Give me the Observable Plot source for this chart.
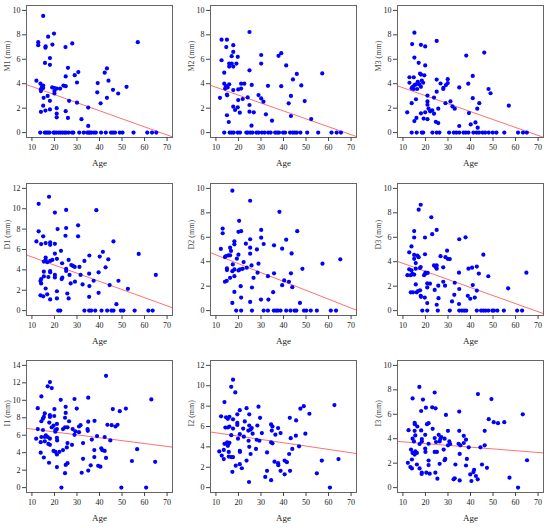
<!DOCTYPE html>
<html><head><meta charset="utf-8">
<script src="https://cdn.jsdelivr.net/npm/d3@7"></script>
<script src="https://cdn.jsdelivr.net/npm/@observablehq/plot@0.6"></script>
<style>
body{margin:0;background:#fff;}
#wrap{position:relative;width:550px;height:528px;overflow:hidden;background:#fff;}
#wrap > div{position:absolute;}
#wrap svg, #wrap svg text{font-family:"Liberation Serif","DejaVu Serif",serif !important;}
</style></head><body><div id="wrap"></div>
<script>
const xTicks = [10,20,30,40,50,60,70];
const yTicks10 = [0,2,4,6,8,10];
const yTicks12 = [0,2,4,6,8,10,12];
const yTicks14 = [0,2,4,6,8,10,12,14];
const yLabels = ["M1 (mm)","M2 (mm)","M3 (mm)","D1 (mm)","D2 (mm)","D3 (mm)","I1 (mm)","I2 (mm)","I3 (mm)"];
const yMaxes = [10,10,10,12,10,10,14,12,10];
const intercepts = [4.43,4.36,4.32,6.07,5.29,4.53,7.04,5.71,3.89];
const slopes = [-0.066,-0.0647,-0.065,-0.080,-0.0726,-0.066,-0.0332,-0.0327,-0.0145];

const m1 = [[15,9.55],[12.8,7.4],[12.8,7.15],[17.2,7.85],[19.8,8.1],[16,6.95],[16.1,7.05],[19.1,7.2],[27.9,7.3],[24.9,7.0],[57,7.4],[18,6.1],[15.8,5.7],[18,5.55],[26,5.3],[30.6,4.95],[29,4.7],[43.3,5.25],[42.3,4.9],[25,4.6],[30,4.1],[44,4.25],[39.2,4.05],[12,4.25],[13.8,4.0],[14.5,3.75],[15,3.85],[14,3.55],[14,3.4],[15,3.65],[19,3.7],[20,3.65],[21,3.6],[20,3.4],[20,3.2],[22.5,3.6],[24,3.85],[25,3.8],[39,3.3],[46,3.5],[48.3,3.2],[52,3.75],[17,3.0],[15.2,2.85],[18,2.6],[26.5,2.6],[30,2.45],[40.5,2.4],[43.3,2.85],[15,2.2],[21,2.0],[35,2.05],[16,1.8],[18,1.9],[14,1.7],[21,1.55],[25,1.75],[21,1.25],[26,1.2],[32,1.1],[35,0.55]];
const m1Zero = [13.7,15.7,16.3,17.1,17.8,19.6,20.1,20.9,21.9,22.7,23.6,24.5,25.2,26.3,27.8,28.4,31,33,34.5,35.2,35.7,36.4,37.5,38.4,40.7,42.8,45.1,46,46.9,49,50.2,55.1,61.2,63.3,65.2];

const m2 = [[12.5,7.6],[14.9,7.6],[12.5,5.92],[14.6,7.0],[17.7,7.15],[17.7,6.6],[17,6.25],[19.7,6.2],[15.9,5.65],[17,5.65],[15.9,5.4],[17.7,5.4],[19.1,5.65],[24.9,8.23],[24.9,5.1],[30.1,5.65],[30.1,6.35],[37.8,6.28],[39,6.5],[41.2,5.5],[57.2,4.84],[45.9,4.8],[44.2,4.35],[13.7,4.9],[13.7,4.0],[14.5,3.8],[14.1,3.6],[15.9,3.95],[15.2,3.7],[14.9,3.12],[15,3.05],[17.7,3.48],[19.9,3.53],[21.2,3.6],[21.2,4.0],[22.6,4.0],[25.9,3.9],[33.1,3.83],[39,3.8],[47.9,3.86],[11.8,2.85],[19.9,2.66],[21.9,2.75],[24.1,2.88],[28.9,3.07],[30.1,2.8],[31.1,2.53],[43.3,3.0],[49.4,2.58],[42.3,2.4],[17.7,2.12],[18.5,1.85],[19.7,2.07],[24.9,2.26],[20.6,1.63],[24.9,1.71],[26.8,1.66],[32.2,1.5],[43.3,1.36],[34.9,0.98],[52.3,1.11],[14.9,1.42],[15.7,0.87],[25.8,0.57]];
const m2Zero = [13.7,16.1,17,17.9,19.7,20.7,23.5,24.1,25.2,26.2,28,28.9,30.4,31.6,33.2,34.3,36.3,37.2,38,39.8,40.7,42.9,44.1,45,45.9,47.5,50.5,55.4,61.3,63.6,65.5];

const m3 = [[15.1,8.18],[14.1,7.24],[18,7.18],[19.9,7.05],[25,7.5],[46.1,6.55],[38.1,6.3],[15.1,6.14],[17,5.71],[19.9,5.5],[17.6,4.83],[18,4.75],[19.5,4.69],[12.9,4.53],[14.8,4.53],[25,4.34],[29.9,4.37],[41,4.64],[12.9,4.08],[14.2,3.73],[15.1,3.89],[15.8,3.94],[16.6,4.16],[18.4,4.26],[19,4.08],[17.3,3.94],[18,3.75],[13.9,3.62],[14.8,3.57],[16.3,3.57],[26.7,4.02],[29.1,3.89],[29.9,4.05],[27.9,3.57],[28,3.67],[25,3.35],[20.9,3.03],[23.8,2.87],[35,3.7],[39,4.0],[48,3.57],[48.9,3.22],[41,2.82],[43.9,2.41],[13.9,2.41],[20.9,2.55],[20.9,2.28],[28.9,2.41],[31.1,2.55],[57,2.2],[15.8,2.73],[32,2.14],[33,1.96],[21.4,1.96],[22.1,1.74],[23,1.82],[25.7,1.96],[43,1.96],[11.9,1.66],[18,1.58],[19.9,1.66],[23.8,1.55],[39.3,1.6],[16,1.2],[19.2,1.15],[20.9,1.1],[24.6,0.88],[25.7,0.78],[15.1,0.94],[40.1,0.67],[42.2,0.83],[35,0.54],[43.2,0.4]];
const m3Zero = [13.9,16.1,18.4,19,23.1,25,26.2,30.5,32.6,33.7,35,36.9,37.9,39.1,41.3,42.7,43.8,45.4,46.5,48.1,49.9,51.5,55,61.1,63.3,65];

const d1 = [[13,10.48],[17.6,11.18],[20.2,9.63],[25.2,9.89],[38.6,9.86],[13,7.78],[15,7.29],[30.5,8.37],[25.2,8.11],[21.4,8.01],[24.9,7.35],[30.5,7.29],[12,6.79],[14.1,6.53],[16.1,6.63],[18.1,6.69],[18.1,6.46],[20.2,6.56],[46.2,6.79],[57.4,5.57],[22.9,5.87],[20.2,5.6],[16.1,5.21],[16.1,4.98],[15.3,4.81],[16.8,4.75],[18.1,4.88],[19.1,4.98],[21.1,5.08],[26.3,4.98],[23.4,4.65],[27.5,4.48],[28.2,4.39],[29,4.29],[31.1,4.29],[33.3,4.88],[35.5,5.41],[40.1,5.31],[41.5,5.77],[43.9,5.04],[42.7,4.25],[39.6,3.76],[25.2,4.09],[25.2,3.89],[26.7,3.5],[15.3,3.82],[18.1,3.89],[18.1,3.76],[20.2,3.5],[20.2,3.26],[15.3,3.36],[17.3,3.3],[13.8,2.9],[14.1,2.67],[23.5,3.23],[23.2,3.1],[31.6,3.5],[35.4,3.63],[37.4,2.93],[29.1,2.84],[27.2,2.67],[32.5,2.57],[35.5,2.41],[44.5,2.51],[48.4,2.93],[52.6,2.14],[65,3.5],[14.1,3.1],[13.8,1.5],[15,1.4],[16.8,1.6],[18.1,1.1],[21.1,1.2],[21.1,1.9],[25.7,1.68],[26.3,1.2],[35.4,1.35],[39.6,1.75],[47.5,0.63],[16.1,2.17]];
const d1Zero = [21.7,22.6,33.3,35.4,36.3,38.1,40.9,43.4,45.3,46.2,49.5,50.6,55.6,61.7,63.6];

const d2 = [[17.3,9.81],[25.2,8.99],[38.2,8.08],[20.3,7.35],[12.2,5.05],[13,6.71],[13,6.33],[20,6.45],[21.2,6.5],[30.1,6.6],[30.1,5.97],[46.1,6.5],[25.2,5.84],[41.2,5.8],[18.2,5.67],[18.2,5.42],[23.3,5.48],[31.2,5.45],[35.8,5.34],[39.4,5.07],[28.2,5.01],[16.3,5.15],[16.7,4.88],[25.2,5.15],[20,4.58],[25.2,4.66],[15.5,4.52],[14.5,4.47],[14,4.38],[16.3,4.52],[43.6,4.68],[17.5,3.78],[19.3,4.25],[22.3,3.97],[23.7,3.51],[25.8,3.7],[28.9,3.84],[65.2,4.2],[57.3,3.84],[14.9,3.45],[14.9,3.32],[18.2,3.37],[20,3.29],[20.7,3.37],[21.9,3.42],[17.3,3.23],[28.5,3.1],[26.7,2.68],[48.4,3.42],[40.3,2.47],[42.4,2.36],[16.3,2.68],[14,2.36],[14.8,2.44],[18.2,2.82],[33.1,2.82],[43.3,3.05],[35.8,3.05],[39.4,2.08],[43.9,1.92],[21,2.0],[26,1.89],[18.2,1.53],[35.4,1.51],[21.2,1.07],[30,0.9],[33.3,0.9],[17.3,0.63],[25.2,0.71],[47.3,0.63]];
const d2Zero = [19,21.2,26,31.2,33.1,35.7,36.7,37.5,38.7,41.2,43.1,44.9,45.7,49.1,50.1,52.1,54.8,61,63.3];

const d3 = [[17.9,8.66],[17,8.26],[22.6,7.64],[25,6.6],[23,6.25],[15,6.51],[15,5.98],[19.8,5.98],[35,5.84],[37.8,6.0],[45.7,4.58],[13.8,5.25],[15,4.56],[16.4,4.5],[17,4.37],[15,4.24],[19.8,4.61],[26.7,4.45],[29.6,4.9],[28.9,4.37],[29.9,4.24],[30.8,4.22],[12.8,4.77],[15.7,3.89],[23.8,3.7],[24.5,3.57],[25,3.7],[25,3.43],[27.9,3.54],[17.6,3.49],[17.9,3.57],[39.1,3.43],[40.7,3.51],[42.8,3.6],[15.7,3.43],[12.8,3.38],[13.8,3.3],[12,2.9],[13.5,2.9],[15,2.95],[14.2,3.0],[19.4,2.9],[20.1,3.03],[21,3.08],[20,3.1],[34.9,3.1],[43.7,3.03],[47.9,2.81],[64.8,3.1],[27.9,2.36],[28.7,2.04],[33,2.28],[20.8,2.23],[22,2.2],[20.8,1.9],[25.7,2.04],[15.7,2.14],[41,2.09],[42.8,1.64],[35,1.77],[56.7,1.82],[13.5,1.5],[14.5,1.5],[16.1,1.5],[16.7,1.6],[17.6,1.66],[17.9,1.21],[18,1.13],[19.7,1.07],[24.1,1.69],[25.8,1.02],[32.8,1.29],[38.8,1.21],[39.9,0.97],[41.9,1.07],[31.8,0.75],[20.8,0.62],[25,0.48],[34.9,0.54]];
const d3Zero = [18.6,20.8,25.5,30.8,35,36.2,37.2,38.1,42.8,44.7,45.7,46.7,47.9,49.7,50.4,51.9,54.8,60.7,62.9];

const i1 = [[42.9,12.8],[18,12.09],[17,11.6],[18.8,11.4],[14.2,10.45],[22.8,10.05],[28.9,10.15],[35,10.3],[63,10.1],[12.6,9.1],[20,9.0],[25,9.25],[25,8.55],[29.9,9.05],[45.9,9.0],[51.7,9.05],[49,8.75],[18,8.3],[18,8.1],[15.7,8.5],[15.3,8.1],[14.9,7.9],[19.9,8.2],[24.7,8.0],[14.2,7.6],[17.7,7.45],[26.5,7.6],[35,7.55],[37.8,7.65],[43.5,7.2],[45.4,7.15],[47.1,7.0],[48,7.2],[21.1,7.3],[18.8,6.9],[19.6,7.1],[25.8,6.9],[30.9,7.0],[31.6,7.15],[12.6,6.7],[14.9,6.6],[20.4,6.6],[23.8,6.7],[24.7,6.9],[28.1,6.7],[29.3,6.45],[34.7,6.7],[34.8,6.5],[21.1,6.7],[11.9,5.6],[14.2,5.8],[15.7,5.8],[16.2,6.0],[17,5.8],[18,5.6],[20.4,6.4],[21.1,5.7],[21.2,5.4],[28.9,6.05],[30.9,6.35],[36.6,5.5],[38.9,5.9],[42.3,5.8],[44.8,5.4],[13.9,5.2],[15.7,5.3],[17.3,5.0],[18,4.9],[19.6,4.2],[20.4,4.1],[21.1,3.8],[22.2,4.1],[23.8,4.3],[25.5,4.6],[25.8,5.1],[27.8,4.9],[32.7,5.1],[37.7,4.3],[40.8,4.5],[41.2,4.3],[42.3,4.2],[13.9,4.0],[15.3,3.45],[17.6,2.85],[32.7,3.3],[37.7,3.5],[42.9,3.4],[54.4,3.05],[21.1,2.35],[25,2.6],[25.8,2.8],[36.1,2.55],[39.4,2.5],[40.4,2.4],[35,1.95],[24.7,1.65],[32.1,1.7],[23.1,0],[49.7,0],[60.7,0],[56.7,4.4],[64.7,2.95]];

const i2 = [[17.6,10.6],[16.8,9.9],[18.6,9.35],[13.8,8.4],[28.9,7.95],[23.6,7.8],[20.6,7.6],[24.8,7.2],[49,8.0],[62.6,8.1],[47.5,7.75],[51.5,7.25],[12.3,7.0],[14.5,6.9],[16,6.95],[15.3,6.75],[19.5,7.2],[17.6,6.7],[22.8,6.5],[29.6,6.85],[42.8,6.85],[45.6,6.6],[19.5,6.35],[19.5,6.15],[28.4,6.1],[24.8,6.1],[14.2,5.9],[16,6.0],[15.3,5.9],[22.1,5.8],[25.4,5.7],[25.9,5.85],[24.4,5.6],[17.6,5.8],[34.5,6.2],[35.1,6.0],[37.6,5.85],[34.8,5.6],[38.7,5.35],[36.4,5.2],[49.7,5.3],[45.5,5.1],[26.3,5.3],[30.4,5.35],[20.6,5.25],[16.8,5.15],[22.4,5.0],[19.8,4.8],[28.1,4.7],[29.3,4.6],[24.5,4.6],[43.2,4.85],[34.5,4.45],[35.1,4.35],[46.9,4.05],[43.9,3.8],[13.8,4.3],[14.8,4.3],[15,4.45],[15.6,4.3],[15.3,4.1],[16,4.4],[24.8,4.0],[27.8,3.8],[11.5,3.55],[13.5,3.7],[20.6,3.6],[20.7,3.5],[15.7,3.5],[25.4,3.3],[32.7,3.45],[42.5,3.3],[12.6,3.15],[15.7,3.05],[16.8,3.0],[17.6,3.0],[13.5,2.8],[23.6,2.65],[36,2.55],[40.5,2.65],[41.5,2.5],[57,2.65],[64.4,2.8],[37.6,2.4],[37.7,2.2],[20.6,2.3],[18.8,2.15],[21.5,1.9],[17.3,1.55],[32.7,1.65],[38.7,1.65],[42.9,1.65],[40.5,1.3],[31.9,1.05],[54.8,1.4],[34.5,0.73],[24.7,0.55],[60.6,0]];

const i3 = [[17.3,8.24],[14.3,7.3],[24.1,7.78],[43.3,7.65],[49.3,7.24],[18.9,7.2],[20.2,6.54],[23,6.57],[24.5,6.49],[18.1,6.27],[29.1,5.95],[35,6.22],[63.2,6.0],[48.1,5.6],[50.3,5.35],[52.2,5.27],[55,5.35],[15.2,5.3],[15.3,5.19],[20.7,5.19],[21.4,5.27],[16.4,5.0],[23.2,4.81],[12.5,4.7],[15.2,4.65],[18.1,4.68],[30,4.65],[35,4.65],[46.3,4.65],[14.3,4.0],[18.4,3.97],[18.4,3.78],[24.1,4.05],[25.9,4.32],[27,4.14],[26.3,3.78],[24.7,3.73],[28.5,4.0],[26.6,3.97],[14.9,3.78],[15.5,4.27],[19.9,4.32],[17.4,3.57],[21.4,3.59],[31,3.57],[30.6,3.78],[37,4.24],[37,3.65],[38,3.92],[34.7,3.59],[35.5,3.46],[28.1,3.11],[30,3.46],[44.4,3.3],[46.3,3.46],[39.2,3.3],[19.9,3.19],[20,2.92],[13.6,3.11],[15.5,2.97],[16.2,2.84],[14.3,2.84],[15.2,2.7],[24.1,2.92],[25.1,2.92],[35.2,2.76],[28.8,2.35],[38.4,2.35],[14,2.3],[21.4,2.22],[28.5,2.24],[65.1,2.24],[12.2,2.03],[16.2,1.89],[26.3,1.95],[33.3,1.89],[45.1,1.89],[47.3,1.62],[38,1.81],[13.3,1.68],[14,1.57],[17.4,1.57],[41.6,1.46],[41.3,1.27],[21.4,1.84],[18.4,1.22],[20.4,1.22],[21.9,1.14],[24.4,1.22],[18.3,1.12],[39.9,1.08],[42.4,0.95],[25.3,0.73],[32.5,0.68],[33,0.76],[35.2,0.59],[40.4,0.54],[43.2,0.68],[57.3,0.81],[61.1,0]];

const withZeros = (pts, zeros) => pts.concat(zeros.map(a => [a, 0]));
const panelData = [withZeros(m1, m1Zero), withZeros(m2, m2Zero), withZeros(m3, m3Zero),
  withZeros(d1, d1Zero), withZeros(d2, d2Zero), withZeros(d3, d3Zero), i1, i2, i3];
const yTickSets = [yTicks10, yTicks10, yTicks10, yTicks12, yTicks10, yTicks10, yTicks14, yTicks12, yTicks10];

const colLeft = [0, 184, 371];
const rowTop = [0, 178, 355];
const xLim = [10, 70];
const wrap = document.getElementById("wrap");

panelData.forEach((pts, k) => {
  const row = Math.floor(k / 3), col = k % 3;
  const yMax = yMaxes[k];
  const xd = [xLim[0] - 0.04 * (xLim[1] - xLim[0]), xLim[1] + 0.04 * (xLim[1] - xLim[0])];
  const yd = [-0.04 * yMax, yMax * 1.04];
  const a = intercepts[k], b = slopes[k];
  const fit = xd.map(x => ({x, y: a + b * x}));
  const chart = Plot.plot({
    width: 178, height: 175,
    marginLeft: 26, marginRight: 6, marginTop: 5, marginBottom: 38,
    style: {fontFamily: "'Liberation Serif', serif", fontSize: "8px", background: "transparent", color: "#222"},
    x: {domain: xd},
    y: {domain: yd},
    marks: [
      Plot.line(fit, {x: "x", y: "y", stroke: "#ff7070", strokeWidth: 1, clip: true}),
      Plot.dot(pts, {x: d => d[0], y: d => d[1], r: 2.1, fill: "#0000ff", stroke: "none"}),
      Plot.frame({stroke: "#666", strokeWidth: 1}),
      Plot.axisX({ticks: xTicks, tickSize: 4, tickPadding: 3, label: null, fontSize: 8, stroke: "#444"}),
      Plot.axisY({ticks: yTickSets[k], tickSize: 4, tickPadding: 2, label: null, fontSize: 8, stroke: "#444"}),
      Plot.text(["Age"], {text: d => d, frameAnchor: "bottom", dy: 28, fontSize: 9, fill: "#222"}),
      Plot.text([yLabels[k]], {text: d => d, frameAnchor: "left", dx: -19, rotate: -90, fontSize: 8, fill: "#444"})
    ]
  });
  const holder = document.createElement("div");
  holder.style.left = colLeft[col] + "px";
  holder.style.top = rowTop[row] + "px";
  holder.appendChild(chart);
  wrap.appendChild(holder);
});
</script></body></html>
